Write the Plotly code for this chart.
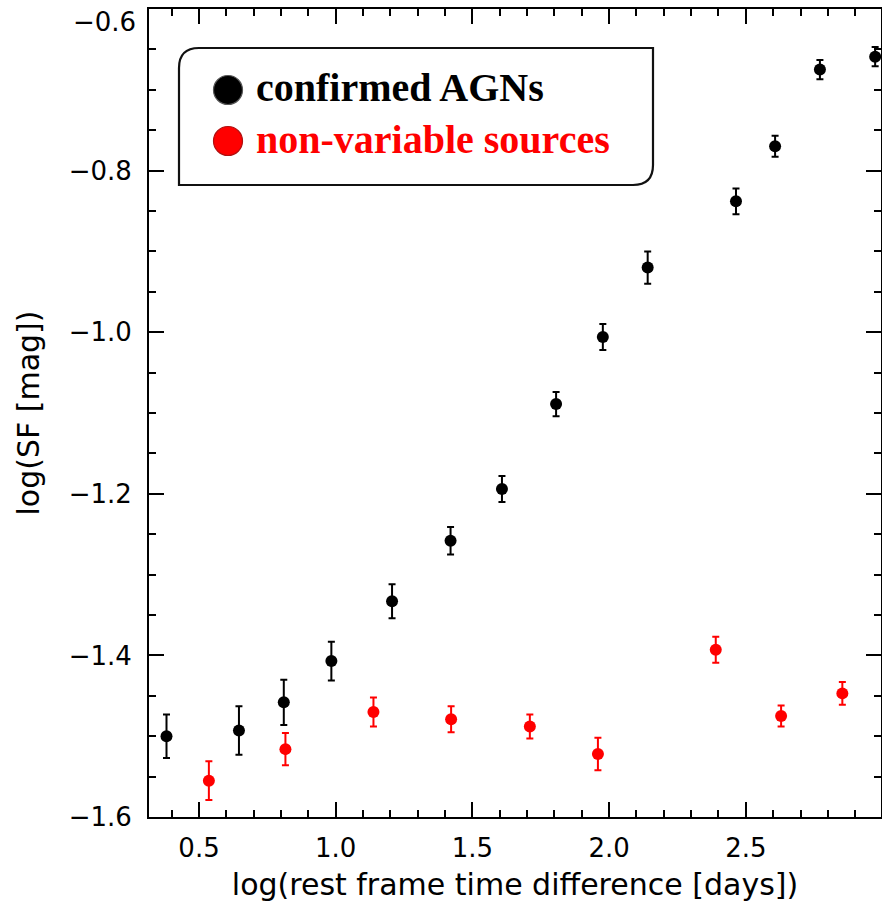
import plotly.graph_objects as go

# ---- data ----
agn_x = [0.381, 0.646, 0.810, 0.984, 1.206, 1.420, 1.608, 1.806, 1.977, 2.141, 2.464, 2.607, 2.771, 2.973]
agn_y = [-1.500, -1.493, -1.458, -1.407, -1.333, -1.258, -1.194, -1.089, -1.006, -0.920, -0.838, -0.770, -0.675, -0.659]
agn_err = [0.027, 0.030, 0.028, 0.024, 0.021, 0.017, 0.016, 0.015, 0.016, 0.020, 0.016, 0.013, 0.012, 0.012]

nv_x = [0.536, 0.816, 1.138, 1.422, 1.710, 1.959, 2.390, 2.629, 2.853]
nv_y = [-1.555, -1.516, -1.470, -1.479, -1.488, -1.522, -1.393, -1.475, -1.447]
nv_err = [0.024, 0.020, 0.018, 0.016, 0.015, 0.020, 0.016, 0.013, 0.014]

legend_labels = ["confirmed AGNs", "non-variable sources"]
series_colors = ["#000000", "#ff0000"]

x_ticks = [0.5, 1.0, 1.5, 2.0, 2.5]
y_ticks = [-1.6, -1.4, -1.2, -1.0, -0.8, -0.6]

# ---- layout geometry (pixels) ----
W, H = 882, 908
ML, MR, MT, MB = 149, 1, 9, 91
PW, PH = W - ML - MR, H - MT - MB
XPX_PER_UNIT = 273.4
X0 = 0.317
XRANGE = [X0, X0 + PW / XPX_PER_UNIT]
YRANGE = [-1.6, -0.6]


def fx(px):
    return (px - ML) / PW


def fy(py):
    return (H - MB - py) / PH


AXFONT = dict(family="DejaVu Sans", size=26, color="black")
TITLEFONT = dict(family="DejaVu Sans", size=30, color="black")

fig = go.Figure()
for xs, ys, es, col in [(agn_x, agn_y, agn_err, series_colors[0]),
                        (nv_x, nv_y, nv_err, series_colors[1])]:
    fig.add_trace(go.Scatter(
        x=xs, y=ys, mode="markers",
        marker=dict(color=col, size=12, line=dict(width=0)),
        error_y=dict(type="data", array=es, visible=True, color=col,
                     thickness=2, width=3.5),
        showlegend=False, hoverinfo="skip",
    ))

# ---- legend box with two rounded corners ----
bx0, bx1, by0, by1, r = 179, 653, 48, 185, 20
path = (
    f"M {fx(bx0)},{fy(by1)} "
    f"L {fx(bx0)},{fy(by0 + r)} "
    f"Q {fx(bx0)},{fy(by0)} {fx(bx0 + r)},{fy(by0)} "
    f"L {fx(bx1)},{fy(by0)} "
    f"L {fx(bx1)},{fy(by1 - r)} "
    f"Q {fx(bx1)},{fy(by1)} {fx(bx1 - r)},{fy(by1)} Z"
)
shapes = [dict(type="path", xref="paper", yref="paper", path=path,
               line=dict(color="#111111", width=2.2), fillcolor="white", layer="above")]

annotations = []
rows_y = [88, 139]
for lab, col, ry in zip(legend_labels, series_colors, rows_y):
    # marker sphere with a soft rim
    rim = "#555555" if col == "#000000" else "#b01010"
    shapes.append(dict(type="circle", xref="paper", yref="paper",
                       xsizemode="pixel", ysizemode="pixel",
                       xanchor=fx(228), yanchor=fy(ry + 2),
                       x0=-14.5, x1=14.5, y0=-14.5, y1=14.5,
                       fillcolor=col, line=dict(color=rim, width=1.2),
                       layer="above"))
    annotations.append(dict(
        text=f"<b>{lab}</b>", xref="paper", yref="paper",
        x=fx(254), y=fy(ry), xanchor="left", yanchor="middle",
        showarrow=False,
        font=dict(family="Liberation Serif", size=40, color=col),
    ))

# -0.6 label sits slightly below the top edge in the reference
annotations.append(dict(
    text="\u22120.6", xref="paper", yref="paper", x=fx(138), y=fy(22),
    xanchor="right", yanchor="middle", showarrow=False, font=AXFONT,
))

axis_common = dict(
    showline=True, linecolor="black", linewidth=2, mirror="allticks",
    ticks="inside", ticklen=15, tickwidth=2, tickcolor="black",
    showgrid=False, zeroline=False, tickfont=AXFONT,
)

fig.update_layout(
    width=W, height=H,
    margin=dict(l=ML, r=MR, t=MT, b=MB, autoexpand=False),
    paper_bgcolor="white", plot_bgcolor="white",
    shapes=shapes, annotations=annotations,
    xaxis=dict(range=XRANGE, tickvals=x_ticks,
               ticktext=[f"{v:.1f}" for v in x_ticks],
               minor=dict(dtick=0.1, tick0=0, ticks="inside", ticklen=7,
                          tickwidth=2, tickcolor="black"),
               ticklabelstandoff=7,
               title=dict(text="log(rest frame time difference [days])",
                          font=TITLEFONT, standoff=12),
               **axis_common),
    yaxis=dict(range=YRANGE, tickvals=y_ticks,
               ticktext=[("" if abs(v + 0.6) < 1e-9 else f"\u2212{abs(v):.1f}") for v in y_ticks],
               minor=dict(dtick=0.05, tick0=0, ticks="inside", ticklen=7,
                          tickwidth=2, tickcolor="black"),
               ticklabelstandoff=10,
               title=dict(text="log(SF [mag])", font=TITLEFONT, standoff=20),
               **axis_common),
)

fig.write_html("out.html")
